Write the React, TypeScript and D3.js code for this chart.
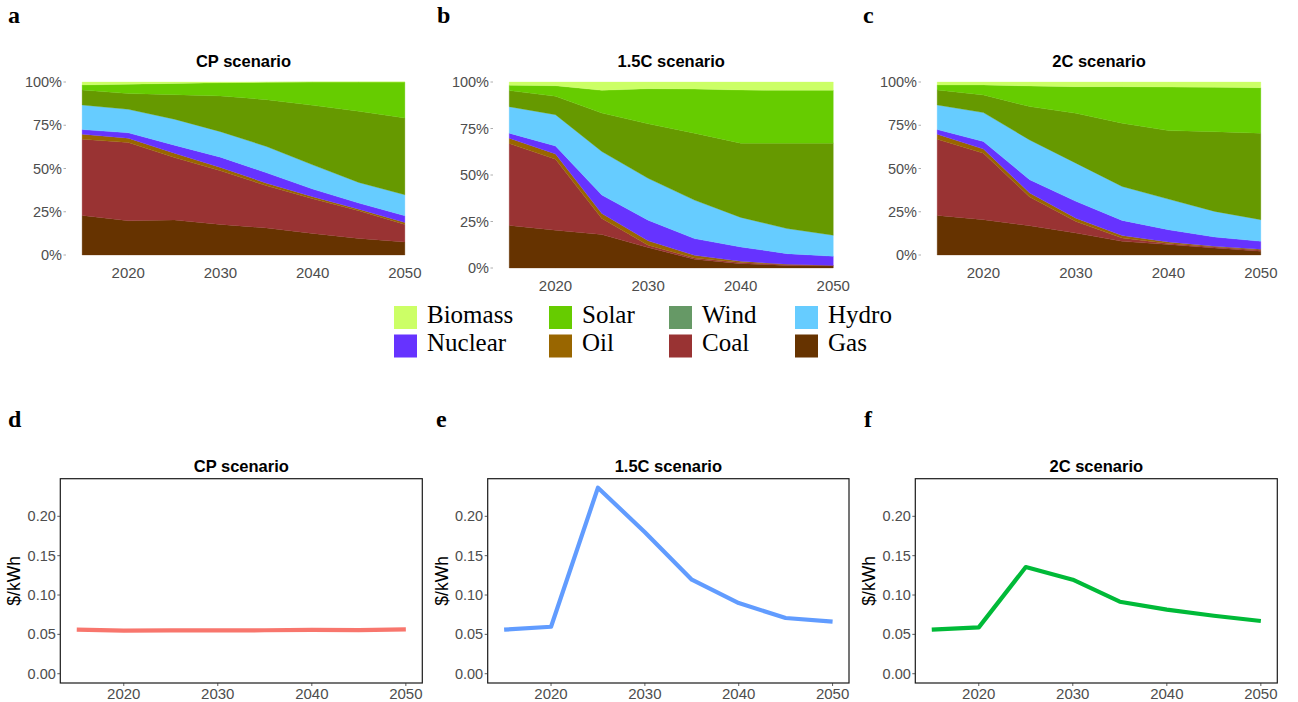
import * as d3 from "d3";

// generation mix shares (%) per source, 2015..2050 in 5-year steps
const years = [2015, 2020, 2025, 2030, 2035, 2040, 2045, 2050];
const sources = ["Gas", "Coal", "Oil", "Nuclear", "Hydro", "Wind", "Solar", "Biomass"];
const areaColors = ["#663300", "#993333", "#996600", "#6633FF", "#66CCFF", "#669900", "#66CC00", "#CCFF66"];
const keyColors = ["#663300", "#993333", "#996600", "#6633FF", "#66CCFF", "#669966", "#66CC00", "#CCFF66"];
const legendOrder = ["Biomass", "Solar", "Wind", "Hydro", "Nuclear", "Oil", "Coal", "Gas"];

// rows follow `sources`
const mixCP = [
  [22.9, 19.8, 20.2, 17.7, 15.6, 12.5, 9.6, 7.5],
  [44.0, 45.2, 36.1, 31.0, 24.4, 20.0, 16.0, 10.2],
  [2.9, 2.5, 2.5, 1.9, 1.5, 1.2, 0.9, 1.1],
  [2.7, 3.1, 4.7, 5.9, 6.0, 4.4, 3.5, 3.9],
  [14.2, 13.6, 15.0, 14.8, 15.2, 14.0, 11.9, 12.1],
  [8.7, 9.1, 14.2, 20.6, 27.1, 34.4, 41.2, 44.4],
  [2.9, 5.4, 6.5, 7.7, 10.0, 13.5, 16.9, 20.8],
  [1.7, 1.3, 0.8, 0.4, 0.2, 0.0, 0.0, 0.0],
];
const mix15 = [
  [22.9, 20.3, 18.0, 11.0, 4.7, 2.3, 1.4, 1.1],
  [44.0, 38.2, 8.6, 1.2, 0.7, 0.6, 0.4, 0.2],
  [2.9, 2.8, 2.7, 2.4, 1.4, 0.7, 0.2, 0.1],
  [2.7, 4.3, 9.9, 11.1, 9.0, 7.7, 5.7, 4.9],
  [14.2, 16.8, 23.4, 22.5, 20.7, 15.9, 13.5, 11.3],
  [8.7, 9.9, 20.7, 29.3, 36.0, 39.9, 45.9, 49.5],
  [2.9, 5.7, 12.2, 18.9, 23.7, 28.6, 28.4, 28.4],
  [1.7, 2.0, 4.5, 3.6, 3.8, 4.3, 4.5, 4.5],
];
const mix2C = [
  [22.9, 20.4, 16.9, 12.7, 7.9, 6.0, 4.0, 2.1],
  [44.0, 38.4, 16.6, 6.7, 1.9, 0.7, 0.6, 0.6],
  [2.9, 2.4, 2.3, 1.9, 1.4, 0.8, 0.4, 0.6],
  [2.7, 4.4, 7.7, 9.7, 8.8, 7.1, 5.4, 4.6],
  [14.2, 16.7, 23.0, 22.1, 19.6, 17.7, 14.8, 12.5],
  [8.7, 10.2, 19.3, 28.8, 36.6, 39.6, 46.1, 50.0],
  [2.9, 5.8, 11.9, 15.4, 21.1, 25.2, 25.6, 26.3],
  [1.7, 1.7, 2.3, 2.7, 2.7, 2.9, 3.1, 3.3],
];

// electricity cost ($/kWh)
const costCP = [0.056, 0.0547, 0.055, 0.055, 0.0552, 0.0557, 0.0553, 0.0563];
const cost15 = [0.056, 0.0597, 0.2364, 0.1797, 0.1195, 0.0898, 0.0708, 0.0661];
const cost2C = [0.056, 0.0589, 0.1356, 0.1195, 0.0915, 0.0814, 0.0737, 0.067];

const xTicks = [2020, 2030, 2040, 2050];
const pctTicks = [0, 0.25, 0.5, 0.75, 1];
const costTicks = [0, 0.05, 0.1, 0.15, 0.2];

const sans = "'Liberation Sans', Arial, sans-serif";
const serif = "'Liberation Serif', 'Times New Roman', serif";
const tickGray = "#4d4d4d";

function MixPanel({ x0, x1, y0, y1, title, mix }) {
  const x = d3.scaleLinear().domain([2013.25, 2051.75]).range([x0, x1]);
  const y = d3.scaleLinear().domain([0, 1]).range([y1, y0]);
  const rows = years.map((yr, i) => {
    const r: any = { year: yr };
    sources.forEach((s, j) => (r[s] = mix[j][i]));
    return r;
  });
  const series = d3.stack().keys(sources).offset(d3.stackOffsetExpand)(rows);
  const area = d3
    .area<any>()
    .x((d) => x(d.data.year))
    .y0((d) => y(d[0]))
    .y1((d) => y(d[1]));
  return (
    <g>
      <text x={(x0 + x1) / 2} y={y0 - 15} textAnchor="middle" fontFamily={sans} fontWeight="bold" fontSize={16.5}>
        {title}
      </text>
      {series.map((s, i) => (
        <path key={s.key} d={area(s) || ""} fill={areaColors[i]} stroke={areaColors[i]} strokeWidth={0.3} />
      ))}
      {pctTicks.map((t) => (
        <g key={t}>
          <line x1={x0 - 2.5} x2={x0} y1={y(t)} y2={y(t)} stroke="#999" strokeWidth={0.8} />
          <text x={x0 - 4} y={y(t)} dy="0.35em" textAnchor="end" fontFamily={sans} fontSize={14.5} fill={tickGray}>
            {d3.format(".0%")(t)}
          </text>
        </g>
      ))}
      {xTicks.map((t) => (
        <text key={t} x={x(t)} y={y1 + 23} textAnchor="middle" fontFamily={sans} fontSize={15} fill={tickGray}>
          {t}
        </text>
      ))}
    </g>
  );
}

function CostPanel({ x0, x1, y0, y1, title, cost, color }) {
  const x = d3.scaleLinear().domain([2013.25, 2051.75]).range([x0, x1]);
  const y = d3.scaleLinear().domain([-0.0118, 0.2478]).range([y1, y0]);
  const line = d3
    .line<number>()
    .x((_, i) => x(years[i]))
    .y((d) => y(d));
  return (
    <g>
      <text x={(x0 + x1) / 2} y={y0 - 7} textAnchor="middle" fontFamily={sans} fontWeight="bold" fontSize={16.5}>
        {title}
      </text>
      <text
        transform={`translate(${x0 - 40},${(y0 + y1) / 2}) rotate(-90)`}
        textAnchor="middle"
        fontFamily={sans}
        fontSize={17.5}
      >
        $/kWh
      </text>
      <path d={line(cost) || ""} fill="none" stroke={color} strokeWidth={4.2} strokeLinejoin="round" />
      <rect x={x0} y={y0} width={x1 - x0} height={y1 - y0} fill="none" stroke="#1a1a1a" strokeWidth={1.2} />
      {costTicks.map((t) => (
        <g key={t}>
          <line x1={x0 - 3} x2={x0} y1={y(t)} y2={y(t)} stroke="#333" strokeWidth={0.8} />
          <text x={x0 - 4.5} y={y(t)} dy="0.35em" textAnchor="end" fontFamily={sans} fontSize={14.5} fill={tickGray}>
            {d3.format(".2f")(t)}
          </text>
        </g>
      ))}
      {xTicks.map((t) => (
        <g key={t}>
          <line x1={x(t)} x2={x(t)} y1={y1} y2={y1 + 3} stroke="#333" strokeWidth={0.8} />
          <text x={x(t)} y={y1 + 15.5} textAnchor="middle" fontFamily={sans} fontSize={15} fill={tickGray}>
            {t}
          </text>
        </g>
      ))}
    </g>
  );
}

function Legend() {
  const colX = [394, 549, 669, 795];
  const rowY = [306, 334.5];
  return (
    <g>
      {legendOrder.map((name, i) => {
        const c = i % 4;
        const r = Math.floor(i / 4);
        const color = keyColors[sources.indexOf(name)];
        return (
          <g key={name}>
            <rect x={colX[c]} y={rowY[r]} width={23} height={23} fill={color} />
            <text x={colX[c] + 33} y={rowY[r] + 16.5} fontFamily={serif} fontSize={25}>
              {name}
            </text>
          </g>
        );
      })}
    </g>
  );
}

const letter = (t: string, x: number, y: number) => (
  <text x={x} y={y} fontFamily={serif} fontWeight="bold" fontSize={24}>
    {t}
  </text>
);

export default function App() {
  return (
    <svg
      width={1298}
      height={702}
      style={{ position: "absolute", left: 0, top: 0, background: "#fff" }}
    >
      {letter("a", 8, 23)}
      {letter("b", 437, 23)}
      {letter("c", 863, 23)}
      {letter("d", 8, 427)}
      {letter("e", 436, 427)}
      {letter("f", 864, 427)}

      <MixPanel x0={66} x1={421} y0={82} y1={255} title="CP scenario" mix={mixCP} />
      <MixPanel x0={493} x1={849.5} y0={82} y1={268} title="1.5C scenario" mix={mix15} />
      <MixPanel x0={921} x1={1277} y0={82} y1={255} title="2C scenario" mix={mix2C} />

      <Legend />

      <CostPanel x0={60.3} x1={422.3} y0={478.7} y1={683} title="CP scenario" cost={costCP} color="#F8766D" />
      <CostPanel x0={487.7} x1={849} y0={478.7} y1={683} title="1.5C scenario" cost={cost15} color="#619CFF" />
      <CostPanel x0={915.3} x1={1277.3} y0={478.7} y1={683} title="2C scenario" cost={cost2C} color="#00BA38" />
    </svg>
  );
}
